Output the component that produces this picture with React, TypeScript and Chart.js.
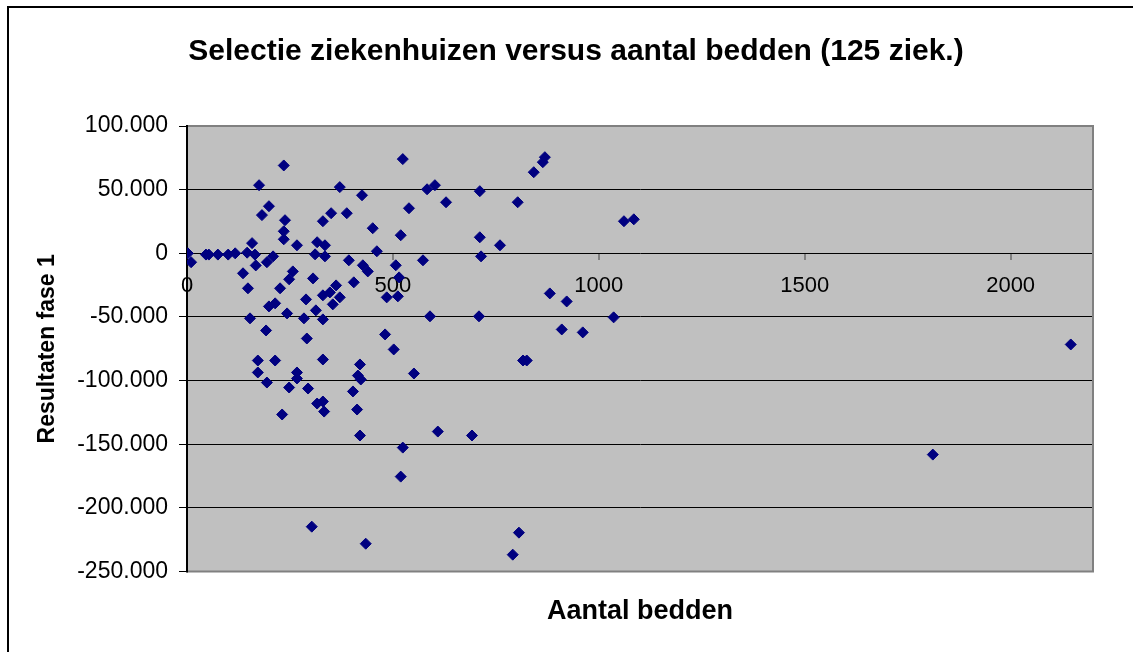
import React, { useEffect, useRef } from "react";
import { Chart, registerables } from "chart.js";

Chart.register(...registerables);

const titleText = "Selectie ziekenhuizen versus aantal bedden (125 ziek.)";
const xTitle = "Aantal bedden";
const yTitle = "Resultaten fase 1";

const xMin = 0;
const xMax = 2200;
const xTickValues = [0, 500, 1000, 1500, 2000];
const yMin = -250000;
const yMax = 100000;
const yStep = 50000;

// aantal bedden per ziekenhuis
const beds = [
  2, 10, 46, 53, 75, 100, 117, 146, 158, 165, 167, 136, 148, 194, 209,
  235, 175, 199, 182, 238, 235, 235, 267, 316, 335, 311, 335, 371, 425, 350,
  330, 388, 451, 524, 583, 602, 539, 629, 519, 711, 711, 393, 427, 439, 405,
  461, 507, 515, 573, 257, 248, 226, 306, 362, 347, 371, 330, 354, 289, 485,
  512, 199, 214, 243, 153, 192, 284, 313, 330, 291, 481, 502, 590, 172, 214,
  330, 172, 267, 267, 194, 248, 294, 316, 330, 333, 231, 420, 415, 422, 403,
  413, 420, 551, 524, 519, 609, 692, 303, 434, 714, 760, 709, 803, 842, 864,
  869, 881, 922, 910, 961, 1036, 1061, 1085, 816, 825, 806, 791, 1811, 2146,
];

// resultaten fase 1 per ziekenhuis
const results = [
  0, -7000, -1000, -1000, -1000, -1000, 0, 500, 8000, -1000, -9500, -15700, -27500, -7000, -2400,
  69000, 53500, 37000, 30000, 26000, 17300, 11000, 6300, 8700, 6300, -800, -2400, 52000, 45600, 31500,
  25200, 31500, 19700, 74000, 50300, 53500, 35400, 40100, 14200, 48800, 12600, -5500, -9400, -14200, -22800,
  1600, -9400, -18900, -5500, -14200, -20400, -27500, -19700, -25200, -30700, -34600, -33000, -40100, -36200, -34600,
  -33800, -41700, -39300, -47200, -51100, -60600, -51100, -44800, -51900, -66900, -63700, -75500, -49500, -84200, -84200,
  -83400, -93600, -93600, -98300, -101500, -105400, -106200, -118000, -116400, -124300, -126600, -87300, -96000, -99100, -108500,
  -122700, -143100, -94400, -152600, -175400, -140000, -143100, -214700, -228100, -2400, 6300, -49500, 40100, 63700, 71600,
  75500, -31500, -37800, -59800, -62100, -50300, 25200, 26700, -84200, -84200, -219400, -236700, -158100, -71600,
];

const FONT = "'Liberation Sans', Arial, sans-serif";

function fmtThousands(v: number): string {
  if (v === 0) return "0";
  const s = Math.abs(v).toString().replace(/\B(?=(\d{3})+(?!\d))/g, ".");
  return (v < 0 ? "-" : "") + s;
}

const plotFrame = {
  id: "plotFrame",
  beforeDraw(chart: any) {
    const { ctx, chartArea: a } = chart;
    ctx.save();
    ctx.fillStyle = "#C0C0C0";
    ctx.fillRect(a.left, a.top, a.right - a.left, a.bottom - a.top);
    ctx.restore();
  },
  beforeDatasetsDraw(chart: any) {
    const { ctx, chartArea: a } = chart;
    ctx.save();
    ctx.strokeStyle = "#808080";
    ctx.lineWidth = 2;
    ctx.beginPath();
    ctx.moveTo(a.left, a.top);
    ctx.lineTo(a.right, a.top);
    ctx.lineTo(a.right, a.bottom);
    ctx.lineTo(a.left, a.bottom);
    ctx.stroke();
    ctx.strokeStyle = "#000";
    ctx.beginPath();
    ctx.moveTo(a.left, a.top - 1);
    ctx.lineTo(a.left, a.bottom + 1);
    ctx.stroke();
    ctx.restore();
  },
};

export default function App() {
  const ref = useRef<HTMLCanvasElement | null>(null);

  useEffect(() => {
    if (!ref.current) return;
    const data = beds.map((b, i) => ({ x: b, y: results[i] }));
    const chart = new Chart(ref.current, {
      type: "scatter",
      data: {
        datasets: [
          {
            data,
            xAxisID: "x",
            yAxisID: "y",
            pointStyle: "rectRot",
            pointRadius: 5.5,
            pointHoverRadius: 5.5,
            pointBackgroundColor: "#000080",
            pointBorderColor: "#000080",
            pointBorderWidth: 1,
          },
        ],
      },
      options: {
        responsive: false,
        animation: false,
        devicePixelRatio: 1,
        events: [],
        layout: { padding: { left: 59, right: 40, top: 0, bottom: 0 } },
        plugins: {
          legend: { display: false },
          tooltip: { enabled: false },
          title: {
            display: true,
            text: titleText,
            color: "#000",
            font: { family: FONT, size: 30, weight: "bold" },
            padding: { top: 34, bottom: 56 },
          },
        },
        scales: {
          x: {
            type: "linear",
            position: { y: 0 } as any,
            min: xMin,
            max: xMax,
            afterBuildTicks: (scale: any) => {
              scale.ticks = xTickValues.map((v) => ({ value: v }));
            },
            ticks: {
              autoSkip: false,
              color: "#000",
              font: { family: FONT, size: 22 },
              padding: 12,
              maxRotation: 0,
              minRotation: 0,
              callback: (v: any) => String(v),
            },
            grid: {
              display: true,
              drawOnChartArea: false,
              drawTicks: true,
              tickLength: 7,
              color: "#808080",
              lineWidth: 2,
            },
            border: { display: false },
          },
          xTitleAxis: {
            type: "linear",
            axis: "x",
            position: "bottom",
            display: true,
            min: xMin,
            max: xMax,
            ticks: { display: false },
            grid: { display: false, drawTicks: false },
            border: { display: false },
            title: {
              display: true,
              text: xTitle,
              color: "#000",
              font: { family: FONT, size: 27, weight: "bold" },
              padding: { top: 24, bottom: 24 },
            },
          },
          y: {
            type: "linear",
            position: "left",
            min: yMin,
            max: yMax,
            afterFit: (scale: any) => {
              scale.width = 128;
            },
            ticks: {
              stepSize: yStep,
              color: "#000",
              font: { family: FONT, size: 23 },
              padding: 11,
              callback: (v: any) => fmtThousands(Number(v)),
            },
            grid: {
              color: "#000",
              lineWidth: 1,
              drawTicks: true,
              tickLength: 8,
            },
            border: { display: true, color: "#000", width: 2 },
            title: {
              display: true,
              text: yTitle,
              color: "#000",
              font: { family: FONT, size: 23, weight: "bold" },
              padding: { top: -25, bottom: 0 },
            },
          },
        },
      },
      plugins: [plotFrame],
    });
    return () => chart.destroy();
  }, []);

  return (
    <div
      style={{
        position: "fixed",
        left: 0,
        top: 0,
        width: 1133,
        height: 652,
        overflow: "hidden",
        background: "#fff",
      }}
    >
      <div
        style={{
          position: "absolute",
          left: 7,
          top: 6,
          width: 1200,
          height: 700,
          border: "2px solid #000",
          boxSizing: "border-box",
        }}
      />
      <canvas
        ref={ref}
        width={1133}
        height={652}
        style={{ position: "absolute", left: 0, top: 0, display: "block" }}
      />
    </div>
  );
}
